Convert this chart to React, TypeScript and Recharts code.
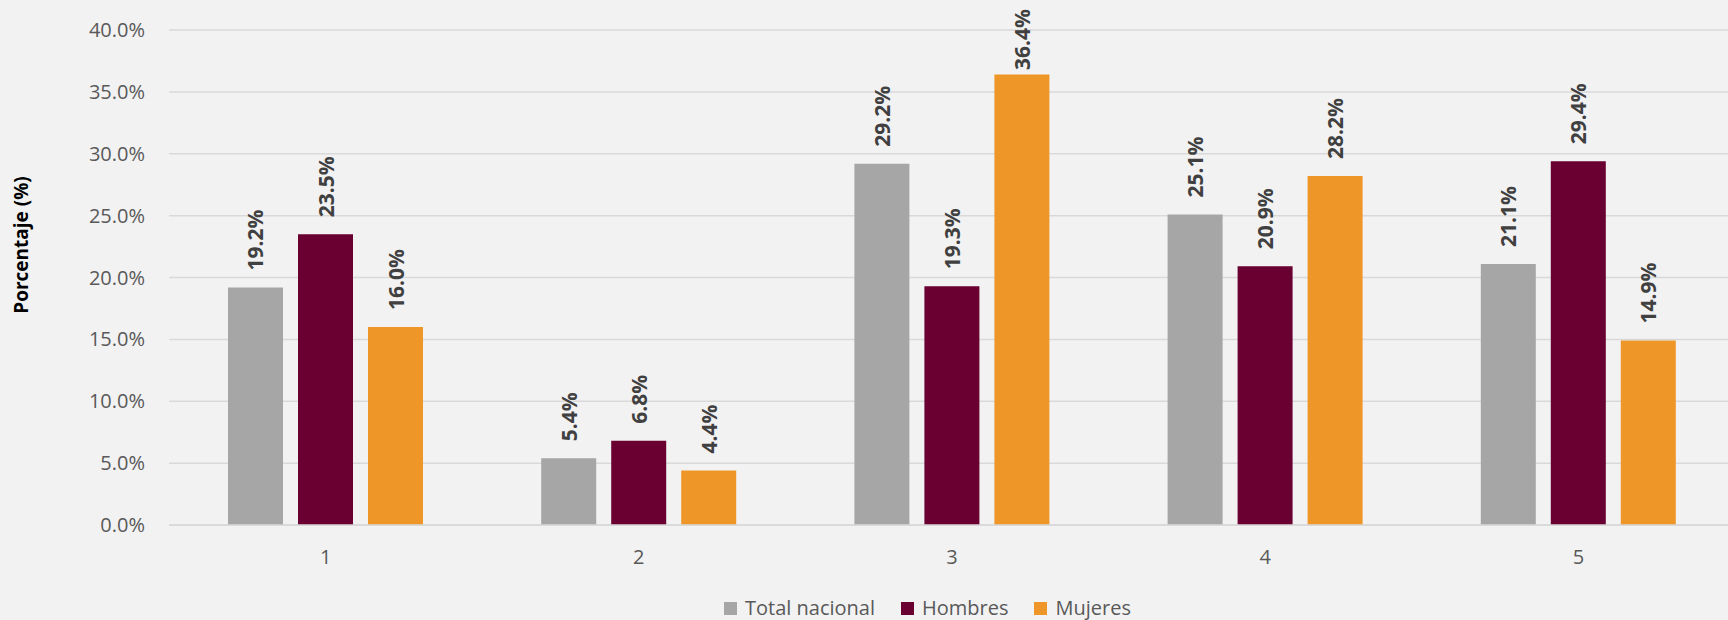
import React from 'react';
import { BarChart, Bar, XAxis, YAxis, CartesianGrid, LabelList } from 'recharts';

// categorías y series
const categories = ['1', '2', '3', '4', '5'];
const totalNacional = [19.2, 5.4, 29.2, 25.1, 21.1];
const hombres = [23.5, 6.8, 19.3, 20.9, 29.4];
const mujeres = [16.0, 4.4, 36.4, 28.2, 14.9];
const yTicks = [0, 5, 10, 15, 20, 25, 30, 35, 40];

const seriesNames = ['Total nacional', 'Hombres', 'Mujeres'];
const seriesKeys = ['total', 'hombres', 'mujeres'];
const seriesColors = ['#a6a6a6', '#690031', '#ee9628'];

const data = categories.map((c, i) => ({
  name: c,
  total: totalNacional[i],
  hombres: hombres[i],
  mujeres: mujeres[i],
}));

const FONT = '"Open Sans", "Noto Sans", sans-serif';

// etiqueta vertical; se baja si no cabe arriba
const renderValue = (props: any) => {
  const { x, y, width, value } = props;
  const cx = x + width / 2;
  const ty = Math.max(y - 17, 70);
  return (
    <text
      x={cx}
      y={ty}
      transform={`rotate(-90, ${cx}, ${ty})`}
      textAnchor="start"
      dominantBaseline="central"
      fill="#404040"
      fontSize={21}
      fontWeight={700}
      fontFamily={FONT}
    >
      {value.toFixed(1)}%
    </text>
  );
};

const App = () => {
  return (
    <div
      style={{
        position: 'fixed',
        left: 0,
        top: 0,
        width: 1728,
        height: 620,
        overflow: 'hidden',
        background: '#f2f2f2',
        fontFamily: FONT,
      }}
    >
      <BarChart
        width={1740}
        height={620}
        data={data}
        margin={{ top: 30, right: 5, left: 0, bottom: 0 }}
        barSize={55}
        barGap={15}
      >
        <CartesianGrid vertical={false} stroke="#d9d9d9" strokeWidth={1.5} />
        <XAxis
          dataKey="name"
          height={95}
          tickLine={false}
          tickSize={0}
          tickMargin={25}
          axisLine={{ stroke: '#d9d9d9', strokeWidth: 1.5 }}
          tick={{ fill: '#595959', fontSize: 20, fontFamily: FONT }}
        />
        <YAxis
          width={169}
          domain={[0, 40]}
          ticks={yTicks}
          interval={0}
          tickLine={false}
          axisLine={false}
          tickSize={0}
          tickMargin={24}
          tickFormatter={(v: number) => `${v.toFixed(1)}%`}
          tick={{ fill: '#595959', fontSize: 20, fontFamily: FONT }}
          label={{
            content: () => (
              <text
                x={21}
                y={245}
                transform="rotate(-90, 21, 245)"
                textAnchor="middle"
                dominantBaseline="central"
                fill="#000000"
                fontSize={19}
                fontWeight={700}
                fontFamily={FONT}
              >
                Porcentaje (%)
              </text>
            ),
          }}
        />
        {seriesKeys.map((k, i) => (
          <Bar key={k} dataKey={k} name={seriesNames[i]} fill={seriesColors[i]} isAnimationActive={false}>
            <LabelList dataKey={k} content={renderValue} />
          </Bar>
        ))}
      </BarChart>
      <div
        style={{
          position: 'absolute',
          left: 724,
          top: 596,
          display: 'flex',
          alignItems: 'center',
          gap: 26,
          fontSize: 20,
          color: '#595959',
          lineHeight: '24px',
        }}
      >
        {seriesNames.map((n, i) => (
          <div key={n} style={{ display: 'flex', alignItems: 'center', gap: 8 }}>
            <span style={{ width: 13, height: 13, background: seriesColors[i], display: 'inline-block' }} />
            <span>{n}</span>
          </div>
        ))}
      </div>
    </div>
  );
};

export default App;
